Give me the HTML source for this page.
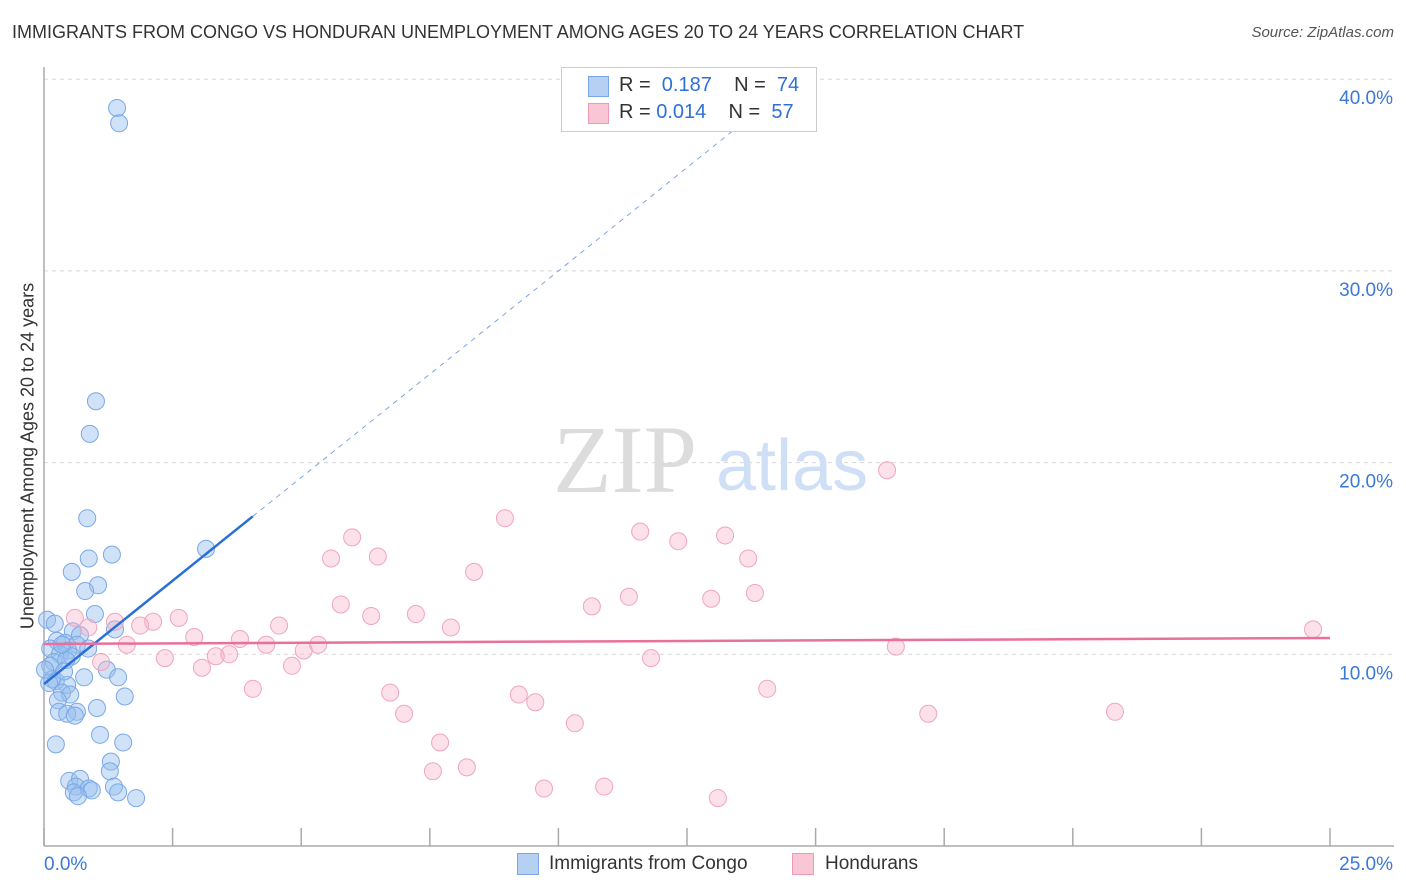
<!DOCTYPE html>
<html><head><meta charset="utf-8"><style>
body{margin:0;background:#fff;font-family:"Liberation Sans",sans-serif;}
#wrap{position:relative;width:1406px;height:892px;overflow:hidden;}
.t{position:absolute;white-space:nowrap;}
</style></head><body>
<div id="wrap">
<div class="t" style="left:12px;top:22px;font-size:18px;color:#333;">IMMIGRANTS FROM CONGO VS HONDURAN UNEMPLOYMENT AMONG AGES 20 TO 24 YEARS CORRELATION CHART</div>
<div class="t" style="right:12px;top:24px;font-size:15px;color:#555;font-style:italic;">Source: ZipAtlas.com</div>
<div class="t" style="left:28px;top:456px;font-size:18px;color:#333;transform:translate(-50%,-50%) rotate(-90deg);">Unemployment Among Ages 20 to 24 years</div>
<svg id="plot" width="1406" height="892" style="position:absolute;left:0;top:0"></svg>
<div style="position:absolute;left:561px;top:67px;width:254px;height:63px;border:1px solid #ccc;background:#fff;"></div>
<div style="position:absolute;left:588px;top:76px;width:19px;height:19px;background:#b6d0f3;border:1px solid #7aa6e6;"></div>
<div style="position:absolute;left:588px;top:103px;width:19px;height:19px;background:#f9c6d6;border:1px solid #ee9ab5;"></div>
<div class="t" style="left:619px;top:74px;font-size:20px;color:#333;">R = &nbsp;<span style="color:#2f6fd6">0.187</span>&nbsp;&nbsp;&nbsp; N = &nbsp;<span style="color:#2f6fd6">74</span></div>
<div class="t" style="left:619px;top:101px;font-size:20px;color:#333;">R = <span style="color:#2f6fd6">0.014</span>&nbsp;&nbsp;&nbsp; N = &nbsp;<span style="color:#2f6fd6">57</span></div>
<div style="position:absolute;left:517px;top:853px;width:20px;height:20px;background:#b6d0f3;border:1px solid #7aa6e6;"></div>
<div class="t" style="left:549px;top:853px;font-size:19px;color:#333;">Immigrants from Congo</div>
<div style="position:absolute;left:792px;top:853px;width:20px;height:20px;background:#f9c6d6;border:1px solid #ee9ab5;"></div>
<div class="t" style="left:825px;top:853px;font-size:19px;color:#333;">Hondurans</div>
</div>
<script>
const congoX=[1.42,1.46,1.01,0.89,0.84,3.15,1.32,0.87,0.54,1.05,0.80,0.99,0.06,0.21,1.38,0.56,0.70,0.25,0.41,0.64,0.12,0.47,0.31,0.54,0.19,0.43,1.22,0.12,1.44,0.78,0.16,0.23,0.45,0.10,0.35,0.51,1.57,0.27,1.03,0.29,0.64,0.45,0.60,1.09,1.54,0.23,1.30,1.28,0.49,0.70,1.36,0.62,0.58,0.87,0.93,1.44,1.79,0.66,0.35,0.86,0.02,0.39];
const congoY=[38.5,37.7,23.2,21.5,17.1,15.5,15.2,15.0,14.3,13.6,13.3,12.1,11.8,11.6,11.3,11.2,11.0,10.7,10.6,10.5,10.3,10.2,10.0,9.9,9.6,9.7,9.2,9.4,8.8,8.8,8.7,8.6,8.4,8.5,8.0,7.9,7.8,7.6,7.2,7.0,7.0,6.9,6.8,5.8,5.4,5.3,4.4,3.9,3.4,3.5,3.1,3.1,2.8,3.0,2.9,2.8,2.5,2.6,10.5,10.3,9.2,9.1];
const hondX=[16.39,8.96,11.59,13.24,5.99,12.33,6.49,5.58,13.69,8.36,11.37,13.82,12.97,10.65,5.77,7.23,6.36,0.60,2.62,2.12,1.38,1.87,4.57,7.91,24.67,0.86,2.92,3.81,4.32,5.33,5.05,1.61,16.56,3.60,3.34,2.35,11.80,1.11,4.82,3.07,4.06,14.06,6.73,9.23,9.55,7.00,17.19,20.82,10.32,7.70,7.56,8.22,9.72,10.89,13.10];
const hondY=[19.6,17.1,16.4,16.2,16.1,15.9,15.1,15.0,15.0,14.3,13.0,13.2,12.9,12.5,12.6,12.1,12.0,11.9,11.9,11.7,11.7,11.5,11.5,11.4,11.3,11.4,10.9,10.8,10.5,10.5,10.2,10.5,10.4,10.0,9.9,9.8,9.8,9.6,9.4,9.3,8.2,8.2,8.0,7.9,7.5,6.9,6.9,7.0,6.4,5.4,3.9,4.1,3.0,3.1,2.5];
const yTicks=[10,20,30,40];
const yTickLabels=["10.0%","20.0%","30.0%","40.0%"];
const xTicks=[0,2.5,5,7.5,10,12.5,15,17.5,20,22.5,25];
const congoTrend=[8.45,2.155]; // intercept, slope
const hondTrend=[10.54,10.85]; // y at 0, y at 25
const X=v=>44+v/25*1286, Y=v=>846-v*19.17;
const NS="http://www.w3.org/2000/svg", svg=document.getElementById('plot');
function mk(t,a){const e=document.createElementNS(NS,t);for(const k in a)e.setAttribute(k,a[k]);svg.appendChild(e);return e;}
yTicks.forEach((v,i)=>{
 const g=mk('line',{x1:44,x2:1394,y1:Y(v),y2:Y(v),stroke:'#d8d8d8','stroke-dasharray':'4,4'});
 
 
 const t=mk('text',{x:1393,y:Y(v)+25,'text-anchor':'end','font-size':19,fill:'#3b78d8','font-family':'Liberation Sans'});
 t.textContent=yTickLabels[i];
 
 
});
const wm1=mk('text',{x:553,y:492,'font-size':96,fill:'#dcdcdc','font-family':'Liberation Serif'});wm1.textContent='ZIP';


const wm2=mk('text',{x:716,y:490,'font-size':72,fill:'#cfdff5','font-family':'Liberation Sans'});wm2.textContent='atlas';


mk('line',{x1:44,x2:44,y1:67,y2:846,stroke:'#aaa','stroke-width':1.5});
mk('line',{x1:44,x2:1394,y1:846,y2:846,stroke:'#aaa','stroke-width':1.5});
xTicks.forEach(v=>{const l=mk('line',{x1:X(v),x2:X(v),y1:828,y2:846,stroke:'#aaa','stroke-width':1.5});
 
 });
const xl0=mk('text',{x:44,y:870,'font-size':19,fill:'#3b78d8','font-family':'Liberation Sans'});xl0.textContent='0.0%';

const xl1=mk('text',{x:1393,y:870,'text-anchor':'end','font-size':19,fill:'#3b78d8','font-family':'Liberation Sans'});xl1.textContent='25.0%';

congoX.forEach((v,i)=>{const c=mk('circle',{cx:X(v),cy:Y(congoY[i]),r:8.5,fill:'rgba(150,190,238,0.45)',stroke:'#7aa8e8','stroke-width':1});
 
 });
hondX.forEach((v,i)=>{const c=mk('circle',{cx:X(v),cy:Y(hondY[i]),r:8.5,fill:'rgba(247,180,202,0.4)',stroke:'#f0a5bd','stroke-width':1});
 
 });
const cy=x=>congoTrend[0]+congoTrend[1]*x;
const tl=mk('line',{x1:X(0),y1:Y(cy(0)),x2:X(4.06),y2:Y(cy(4.06)),stroke:'#2a6fd8','stroke-width':2.5});

const td=mk('line',{x1:X(4.06),y1:Y(cy(4.06)),x2:X(13.6),y2:Y(cy(13.6)),stroke:'#7aa6e6','stroke-width':1,'stroke-dasharray':'5,5'});

const hl=mk('line',{x1:X(0),y1:Y(hondTrend[0]),x2:X(25),y2:Y(hondTrend[1]),stroke:'#e8709a','stroke-width':2.5});

</script>
</body></html>
